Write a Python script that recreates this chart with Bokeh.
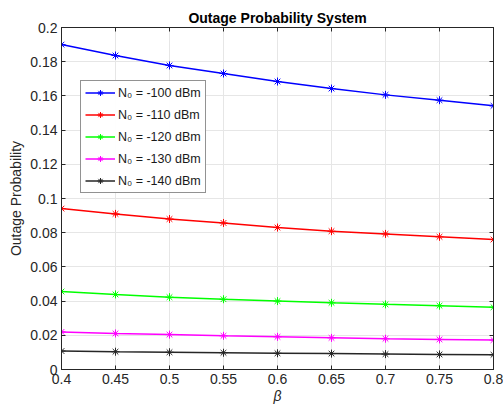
from bokeh.plotting import figure
from bokeh.models import (Legend, LegendItem, Range1d, FixedTicker, LinearAxis,
                          CustomJSTickFormatter)
from bokeh.embed import file_html
from bokeh.resources import INLINE

beta = [0.4, 0.45, 0.5, 0.55, 0.6, 0.65, 0.7, 0.75, 0.8]
p100 = [0.190, 0.1836, 0.1778, 0.1731, 0.1684, 0.1643, 0.1606, 0.1575, 0.1542]
p110 = [0.0941, 0.0910, 0.0880, 0.0857, 0.0830, 0.0809, 0.0793, 0.0776, 0.0760]
p120 = [0.0456, 0.0439, 0.0423, 0.0411, 0.0400, 0.0390, 0.0381, 0.0373, 0.0364]
p130 = [0.0220, 0.0211, 0.0204, 0.0197, 0.0191, 0.0185, 0.0180, 0.0176, 0.0172]
p140 = [0.0108, 0.0104, 0.0101, 0.0098, 0.0095, 0.0093, 0.0090, 0.0088, 0.0086]
labels = ["N\u2080 = -100 dBm", "N\u2080 = -110 dBm", "N\u2080 = -120 dBm",
          "N\u2080 = -130 dBm", "N\u2080 = -140 dBm"]
colors = ["#0000ff", "#ff0000", "#00ff00", "#ff00ff", "#262626"]
xticks = [0.4, 0.45, 0.5, 0.55, 0.6, 0.65, 0.7, 0.75, 0.8]
yticks = [0, 0.02, 0.04, 0.06, 0.08, 0.1, 0.12, 0.14, 0.16, 0.18, 0.2]

FONT = "Liberation Sans"
DARK = "#262626"

p = figure(width=503, height=407, output_backend="svg", toolbar_location=None,
           x_range=Range1d(0.4, 0.8), y_range=Range1d(0, 0.2),
           min_border_left=61, min_border_right=10, min_border_top=27, min_border_bottom=38)
p.title.text = "Outage Probability System"
p.title.align = "center"
p.title.text_font = FONT
p.title.text_font_size = "14px"
p.title.text_font_style = "bold"
p.title.text_color = "#000000"
p.title.offset = 0
p.title.standoff = 4

p.outline_line_color = DARK
p.outline_line_width = 1
p.background_fill_color = "white"
p.border_fill_color = "white"

for ax, ticks in ((p.xaxis[0], xticks), (p.yaxis[0], yticks)):
    ax.ticker = FixedTicker(ticks=ticks)
    ax.major_tick_in = 4
    ax.major_tick_out = 0
    ax.minor_tick_in = 0
    ax.minor_tick_out = 0
    ax.axis_line_color = DARK
    ax.major_tick_line_color = DARK
    ax.major_label_text_font = FONT
    ax.major_label_text_font_size = "14px"
    ax.major_label_text_color = DARK
    ax.axis_label_text_font = FONT
    ax.axis_label_text_font_size = "14px"
    ax.axis_label_text_color = DARK
    ax.axis_label_text_font_style = "normal"

p.xaxis[0].axis_label = "\u03b2"
p.xaxis[0].axis_label_text_font_style = "italic"
p.xaxis[0].axis_label_standoff = 1
p.xaxis[0].major_label_standoff = 4
p.yaxis[0].axis_label = "Outage Probability"
p.yaxis[0].axis_label_standoff = 3
p.yaxis[0].major_label_standoff = 4

# mirrored tick marks on top/right (MATLAB box)
blank = CustomJSTickFormatter(code="return '';")
for loc, ticks in (("right", yticks), ("above", xticks)):
    a = LinearAxis(ticker=FixedTicker(ticks=ticks), formatter=blank,
                   major_tick_in=4, major_tick_out=0, minor_tick_in=0, minor_tick_out=0,
                   axis_line_color=DARK, major_tick_line_color=DARK,
                   major_label_standoff=0)
    p.add_layout(a, loc)

p.xgrid.ticker = FixedTicker(ticks=xticks)
p.ygrid.ticker = FixedTicker(ticks=yticks)
p.xgrid.grid_line_color = "#e6e6e6"
p.ygrid.grid_line_color = "#e6e6e6"

items = []
for ys, c, lab in zip([p100, p110, p120, p130, p140], colors, labels):
    r1 = p.line(beta, ys, line_color=c, line_width=1.5)
    r2 = p.scatter(beta, ys, marker="asterisk", size=8, line_color=c, line_width=1)
    items.append(LegendItem(label=lab, renderers=[r1, r2]))

legend = Legend(items=items, location=(19, 176))
legend.label_text_font = FONT
legend.label_text_font_size = "12.5px"
legend.label_text_color = "#1a1a1a"
legend.border_line_color = DARK
legend.border_line_width = 1
legend.glyph_width = 30
legend.glyph_height = 15
legend.label_height = 15
legend.spacing = 7
legend.padding = 4
legend.margin = 0
legend.label_standoff = 3
p.add_layout(legend, "center")

open("out.html", "w").write(file_html(p, INLINE))
